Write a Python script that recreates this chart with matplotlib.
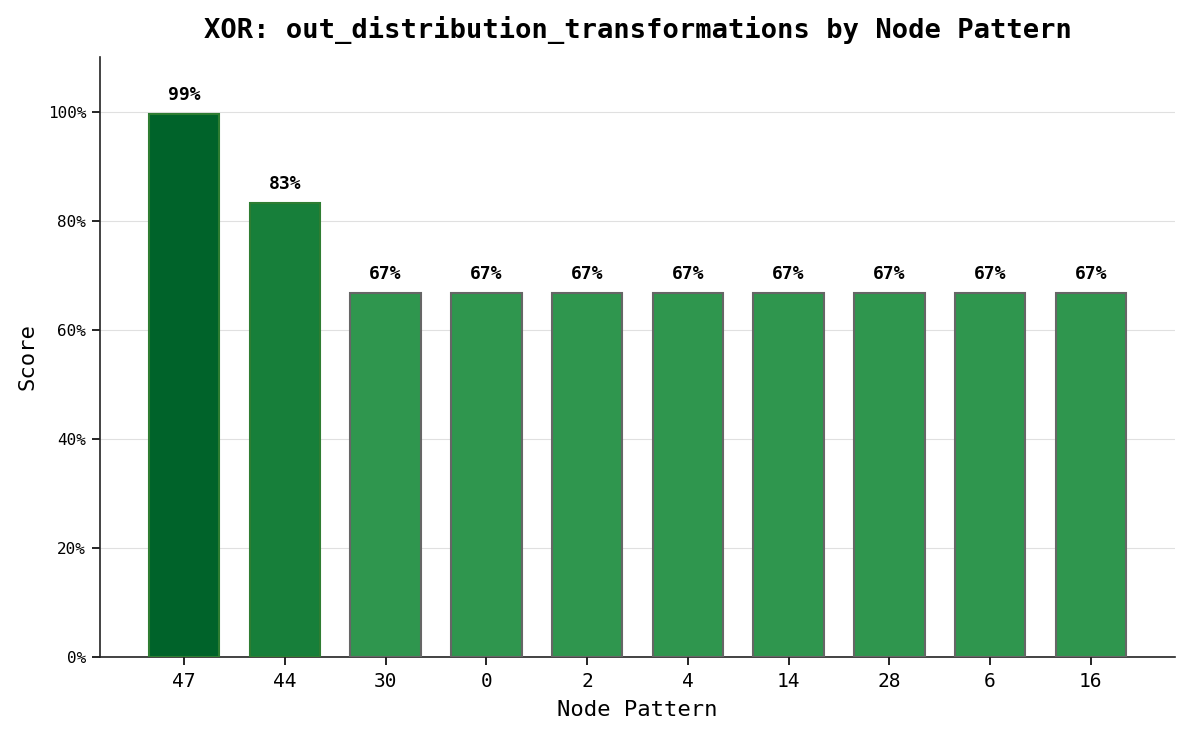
import matplotlib
matplotlib.use('Agg')
import matplotlib.pyplot as plt
from matplotlib.ticker import PercentFormatter

# Data
patterns = ['47', '44', '30', '0', '2', '4', '14', '28', '6', '16']
scores = [0.995, 0.833, 0.667, 0.667, 0.667, 0.667, 0.667, 0.667, 0.667, 0.667]
labels = ['99%', '83%', '67%', '67%', '67%', '67%', '67%', '67%', '67%', '67%']

bar_colors = ['#00632a', '#177f3a'] + ['#2f964e'] * 8
edge_colors = ['#2e7d32', '#2e7d32'] + ['#666666'] * 8

plt.rcParams['font.family'] = ['DejaVu Sans Mono']

fig, ax = plt.subplots(figsize=(11.89, 7.38), dpi=100)
fig.subplots_adjust(left=0.0841, right=0.9882, top=0.9228, bottom=0.1098)

x = list(range(len(patterns)))
ax.bar(x, scores, width=0.7, color=bar_colors, edgecolor=edge_colors, linewidth=1.5, zorder=3)

# Value labels above each bar
for xi, s, lab in zip(x, scores, labels):
    ax.text(xi, s + 0.018, lab, ha='center', va='bottom', fontsize=13, fontweight='bold')

ax.set_ylim(0, 1.1)
ax.set_xticks(x)
ax.set_xticklabels(patterns, fontsize=14)
ax.yaxis.set_major_formatter(PercentFormatter(1.0, decimals=0))
ax.tick_params(axis='y', labelsize=11.5, length=6, width=1.2, pad=4)
ax.tick_params(axis='x', length=6, width=1.2, pad=5)
ax.set_yticks([0, 0.2, 0.4, 0.6, 0.8, 1.0])

ax.set_xlabel('Node Pattern', fontsize=16, labelpad=6)
ax.set_ylabel('Score', fontsize=16, labelpad=7)
ax.set_title('XOR: out_distribution_transformations by Node Pattern',
             fontsize=19.5, fontweight='bold', pad=14)

ax.grid(axis='y', color='#e0e0e0', linewidth=0.8, zorder=0)
ax.set_axisbelow(True)
ax.spines['top'].set_visible(False)
ax.spines['right'].set_visible(False)
for sp in ['left', 'bottom']:
    ax.spines[sp].set_linewidth(1.2)
    ax.spines[sp].set_color('#222222')

fig.savefig('out.png', dpi=100)
